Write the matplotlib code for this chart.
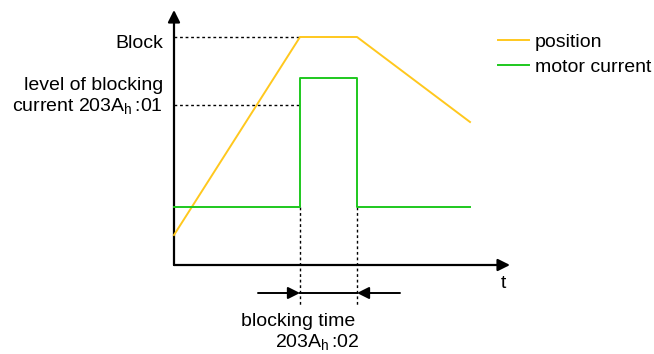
import matplotlib
matplotlib.use("Agg")
import matplotlib.pyplot as plt

plt.rcParams['font.family'] = ['Liberation Sans', 'DejaVu Sans']
plt.rcParams['mathtext.fontset'] = 'custom'
plt.rcParams['mathtext.rm'] = 'Liberation Sans'
plt.rcParams['mathtext.it'] = 'Liberation Sans'

# time marks (arbitrary units) and levels
t_pos = [0, 126, 183, 296]
position = [30, 228, 228, 143]

t_cur = [0, 126, 126, 183, 183, 296]
current = [58, 58, 187, 187, 58, 58]

block_level = 228
blocking_current = 160
t_block_start = 126
t_block_end = 183
t_axis_end = 336
y_axis_end = 255
dim_y = -28

pos_color = '#ffc81e'
cur_color = '#1ec81e'

fig = plt.figure(figsize=(6.54, 3.54), dpi=100)
ax = fig.add_axes([0, 0, 1, 1])
ax.set_xlim(-174, 480)
ax.set_ylim(-89, 265)
ax.axis('off')

# axes with arrows
ax.annotate('', xy=(0, y_axis_end), xytext=(0, 0),
            arrowprops=dict(arrowstyle='-|>', lw=1.6, color='k', mutation_scale=18, shrinkA=0, shrinkB=0))
ax.annotate('', xy=(t_axis_end, 0), xytext=(0, 0),
            arrowprops=dict(arrowstyle='-|>', lw=1.6, color='k', mutation_scale=18, shrinkA=0, shrinkB=0))

# curves
ax.plot(t_pos, position, color=pos_color, lw=1.4, label='position', zorder=3)
ax.plot(t_cur, current, color=cur_color, lw=1.4, label='motor current', zorder=3)

# dotted guides
dot = dict(color='k', lw=1.0, linestyle=(0, (2, 2)), zorder=2)
ax.plot([0, t_block_start], [block_level, block_level], **dot)
ax.plot([0, t_block_start], [blocking_current, blocking_current], **dot)
ax.plot([t_block_start, t_block_start], [current[0], -40], **dot)
ax.plot([t_block_end, t_block_end], [current[0], -40], **dot)

# blocking time dimension
ax.plot([t_block_start, t_block_end], [dim_y, dim_y], color='k', lw=1.4)
ax.annotate('', xy=(t_block_start, dim_y), xytext=(t_block_start - 42, dim_y),
            arrowprops=dict(arrowstyle='-|>', lw=1.4, color='k', mutation_scale=18, shrinkA=0, shrinkB=0))
ax.annotate('', xy=(t_block_end, dim_y), xytext=(t_block_end + 43, dim_y),
            arrowprops=dict(arrowstyle='-|>', lw=1.4, color='k', mutation_scale=18, shrinkA=0, shrinkB=0))

# labels
fs = 14
ax.text(-11, 222, 'Block', ha='right', va='center', fontsize=fs)
ax.text(-11, 180, 'level of blocking', ha='right', va='center', fontsize=fs)
ax.text(-11, 159, r'current 203A$_{\mathrm{h}}\,$:01', ha='right', va='center', fontsize=fs)
ax.text(329, -18, 't', ha='center', va='center', fontsize=fs)
ax.text(124, -56, 'blocking time', ha='center', va='center', fontsize=fs)
ax.text(143, -77, r'203A$_{\mathrm{h}}\,$:02', ha='center', va='center', fontsize=fs)

ax.legend(loc='upper left', bbox_to_anchor=(498 / 654, 1 - 33 / 354), frameon=False,
          fontsize=fs, handlelength=1.6, handletextpad=0.3, labelspacing=0.4,
          borderpad=0, borderaxespad=0)

fig.savefig('out.png', dpi=100)
